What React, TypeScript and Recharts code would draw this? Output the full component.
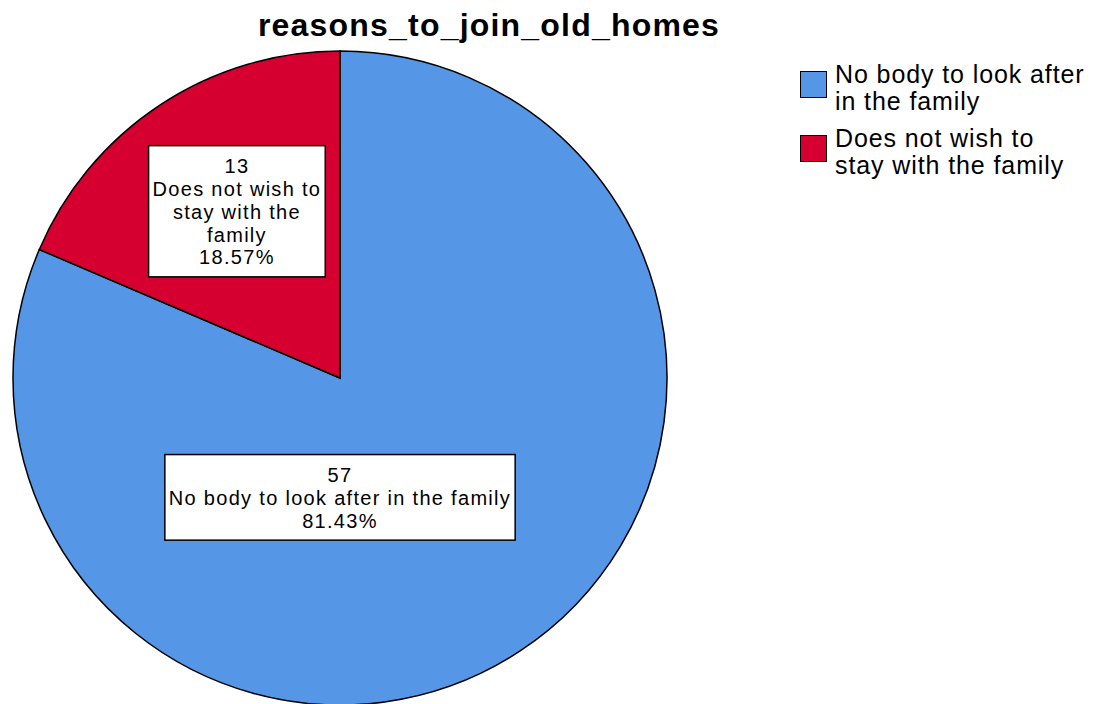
import React from 'react';
import { PieChart, Pie, Cell, Legend } from 'recharts';

const chartTitle = 'reasons_to_join_old_homes';
const reasons = ['No body to look after in the family', 'Does not wish to stay with the family'];
const counts = [57, 13];
const sliceColors = ['#5596e6', '#d50030'];
// how each reason is wrapped inside its slice label and in the legend
const labelLines = [['No body to look after in the family'], ['Does not wish to', 'stay with the', 'family']];
const legendLines = [['No body to look after', 'in the family'], ['Does not wish to', 'stay with the family']];

const data = reasons.map((name, i) => ({ name, value: counts[i] }));

const LABEL_FONT_SIZE = 20;
const LABEL_SPACING = 1.3;
const LABEL_FAMILY = '"Liberation Sans", Arial, sans-serif';

let ctx: CanvasRenderingContext2D | null = null;
const textWidth = (s: string) => {
  if (!ctx) ctx = document.createElement('canvas').getContext('2d');
  if (!ctx) return s.length * LABEL_FONT_SIZE * 0.55;
  ctx.font = `${LABEL_FONT_SIZE}px ${LABEL_FAMILY}`;
  return ctx.measureText(s).width + LABEL_SPACING * s.length;
};

const RADIAN = Math.PI / 180;

const SliceLabel = (props: any) => {
  const { cx, cy, midAngle, outerRadius, percent, index, value } = props;
  const lines = [String(value), ...labelLines[index], (percent * 100).toFixed(2) + '%'];
  let x: number;
  let y: number;
  if (percent > 0.5) {
    // the big slice gets its label just below the centre
    x = cx;
    y = cy + outerRadius * 0.365;
  } else {
    x = cx + outerRadius * 0.6 * Math.cos(-midAngle * RADIAN) + 5;
    y = cy + outerRadius * 0.6 * Math.sin(-midAngle * RADIAN) - 3;
  }
  const lineH = 22.8;
  const capH = 15;
  const w = Math.max(...lines.map(textWidth)) + 8;
  const h = capH + (lines.length - 1) * lineH + 25;
  const top = y - h / 2;
  return (
    <g>
      <rect x={x - w / 2} y={top} width={w} height={h} fill="#fff" stroke="#000" strokeWidth={1.5} />
      <text
        textAnchor="middle"
        fontFamily={LABEL_FAMILY}
        fontSize={LABEL_FONT_SIZE}
        letterSpacing={LABEL_SPACING}
        fill="#000"
      >
        {lines.map((l, i) => (
          <tspan key={i} x={x} y={top + 12.5 + capH + i * lineH}>
            {l}
          </tspan>
        ))}
      </text>
    </g>
  );
};

const LegendBox = () => (
  <div style={{ fontFamily: '"Liberation Sans", Arial, sans-serif', fontSize: 25, letterSpacing: 0.9, lineHeight: '27px', color: '#000' }}>
    {legendLines.map((rows, i) => (
      <div key={i} style={{ display: 'flex', alignItems: 'flex-start', marginBottom: 10 }}>
        <div
          style={{
            boxSizing: 'border-box',
            width: 27,
            height: 27,
            marginTop: 10,
            marginRight: 8,
            background: sliceColors[i],
            border: '1.5px solid #000',
            flexShrink: 0,
          }}
        />
        <div style={{ whiteSpace: 'nowrap' }}>
          {rows.map((r, j) => (
            <div key={j}>{r}</div>
          ))}
        </div>
      </div>
    ))}
  </div>
);

export default function App() {
  return (
    <div style={{ position: 'absolute', left: 0, top: 0, width: 1110, height: 704, background: '#fff', overflow: 'hidden' }}>
      <div
        style={{
          position: 'absolute',
          left: 0,
          width: 978,
          top: 5,
          textAlign: 'center',
          fontFamily: '"Liberation Sans", Arial, sans-serif',
          fontWeight: 'bold',
          fontSize: 32,
          letterSpacing: 1.2,
          lineHeight: '40px',
        }}
      >
        {chartTitle}
      </div>
      <PieChart width={1110} height={704} margin={{ top: 0, right: 0, bottom: 0, left: 0 }}>
        <Pie
          data={data}
          dataKey="value"
          nameKey="name"
          cx={340}
          cy={378}
          outerRadius={327}
          startAngle={90}
          endAngle={-270}
          stroke="#000"
          strokeWidth={1.5}
          label={SliceLabel}
          labelLine={false}
          isAnimationActive={false}
        >
          {data.map((d, i) => (
            <Cell key={d.name} fill={sliceColors[i]} />
          ))}
        </Pie>
        <Legend
          layout="vertical"
          verticalAlign="top"
          align="right"
          content={LegendBox}
          wrapperStyle={{ left: 800, top: 61, width: 305 }}
        />
      </PieChart>
    </div>
  );
}
